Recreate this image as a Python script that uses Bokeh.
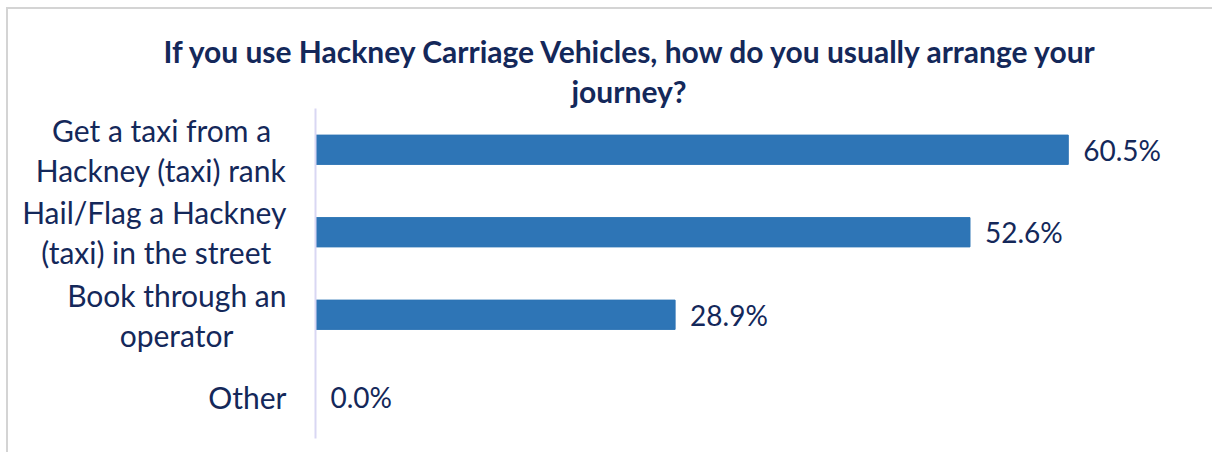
from bokeh.plotting import figure
from bokeh.models import Range1d, FixedTicker, LabelSet, ColumnDataSource, Title
from bokeh.core.properties import value
from bokeh.embed import file_html
from bokeh.resources import INLINE

NB = "\u00a0"
categories = ["Get a taxi from a" + NB * 2 + "\nHackney (taxi) rank",
              "Hail/Flag a Hackney\n(taxi) in the street" + NB * 2,
              "Book through an\noperator" + NB * 7,
              "Other"]
values = [60.5, 52.6, 28.9, 0.0]
value_labels = ["60.5%", "52.6%", "28.9%", "0.0%"]
title_lines = ["If you use Hackney Carriage Vehicles, how do you usually arrange your",
               "journey?"]

FONT = "Lato"
NAVY = "#14285A"
BAR = "#2E75B6"

positions = list(range(len(categories)))
src = ColumnDataSource(dict(y=positions, v=values, lab=value_labels))

p = figure(width=1206, height=445, output_backend="svg", toolbar_location=None,
           x_range=Range1d(0, 70), y_range=Range1d(3.5, -0.5),
           x_axis_location=None,
           min_border_left=307, min_border_right=28,
           min_border_top=99, min_border_bottom=16)
p.margin = (7, 0, 0, 6)
p.styles = {"border-left": "2px solid #D4D4D4", "border-top": "2px solid #D4D4D4"}

p.hbar(y="y", right="v", left=0, height=0.355, source=src,
       fill_color=BAR, line_color=BAR)

p.grid.visible = False
p.outline_line_color = None
p.background_fill_color = "white"
p.border_fill_color = "white"

ax = p.yaxis[0]
ax.ticker = FixedTicker(ticks=positions)
ax.major_label_overrides = {i: c for i, c in zip(positions, categories)}
ax.axis_line_color = "#D9D7F3"
ax.axis_line_width = 2
ax.major_tick_line_color = None
ax.minor_tick_line_color = None
ax.major_label_standoff = 23
ax.major_label_text_font = FONT
ax.major_label_text_font_size = "30px"
ax.major_label_text_color = NAVY
ax.major_label_text_line_height = 1.11

labels = LabelSet(x="v", y="y", text="lab", source=src, x_offset=15,
                  text_baseline="middle", text_align="left",
                  text_font=value(FONT), text_font_size=value("28px"),
                  text_color=NAVY)
p.add_layout(labels)

# titles: inner line first (stacks outward)
title_offsets = [-152, 256]
title_standoffs = [4, 0]
for t, off, so in reversed(list(zip(title_lines, title_offsets, title_standoffs))):
    p.add_layout(Title(text=t, align="left", offset=off, text_font=FONT,
                       text_font_style="bold", text_font_size="30px",
                       text_color=NAVY, standoff=so), "above")

open("out.html", "w").write(file_html(p, INLINE))
